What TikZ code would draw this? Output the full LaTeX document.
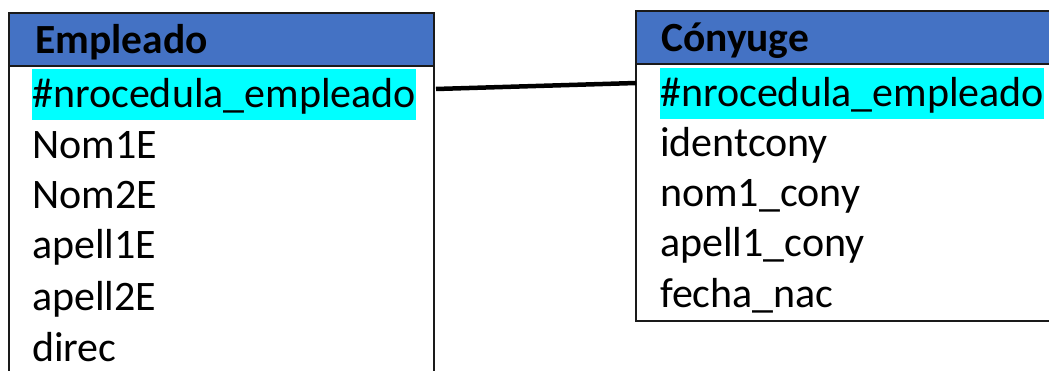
\documentclass[tikz,border=0pt]{standalone}
\usepackage{fontspec}
\setmainfont{Carlito}
\definecolor{hdr}{HTML}{4472C4}
\definecolor{keyc}{HTML}{00FFFF}
\definecolor{edge}{HTML}{1A1A1A}
\begin{document}
\begin{tikzpicture}[x=1pt,y=-1pt,
  box/.style={draw=edge, line width=1.4pt, fill=white, anchor=north west, inner sep=0pt, outer sep=0pt},
  head/.style={box, fill=hdr},
  title/.style={anchor=base west, inner sep=0pt, font=\fontsize{41.5}{48}\selectfont\bfseries},
  attr/.style={anchor=base west, inner sep=0pt, font=\fontsize{42}{48}\selectfont},
  keyattr/.style={attr, fill=keyc, text height=39pt, text depth=12pt},
  rel/.style={draw=black, line width=4.5pt}
]
\useasboundingbox (0,0) rectangle (1049,371);
\clip (0,0) rectangle (1049,371);
% Empleado
\node[box, minimum width=425pt, minimum height=340pt] (empbody) at (9,66) {};
\node[head, minimum width=425pt, minimum height=53pt] (emphead) at (9,13) {};
\node[title] (emptitle) at (35,54) {Empleado};
\node[keyattr] (ek) at (32,108) {\#nrocedula\_empleado};
\node[attr] (e1) at (32,159) {Nom1E};
\node[attr] (e2) at (32,209) {Nom2E};
\node[attr] (e3) at (32,259) {apell1E};
\node[attr] (e4) at (32,310) {apell2E};
\node[attr] (e5) at (32,361) {direc};
% Conyuge
\node[box, minimum width=425pt, minimum height=257pt] (conbody) at (636,64) {};
\node[head, minimum width=425pt, minimum height=53pt] (conhead) at (636,11) {};
\node[title] (contitle) at (661,52) {Cónyuge};
\node[keyattr] (ck) at (660,107) {\#nrocedula\_empleado};
\node[attr] (c1) at (660,157) {identcony};
\node[attr] (c2) at (660,207) {nom1\_cony};
\node[attr] (c3) at (660,257) {apell1\_cony};
\node[attr] (c4) at (660,308) {fecha\_nac};
% relationship
\draw[rel] ([yshift=-23pt,xshift=2pt]empbody.north east) -- ([yshift=-19pt]conbody.north west);
\end{tikzpicture}
\end{document}
